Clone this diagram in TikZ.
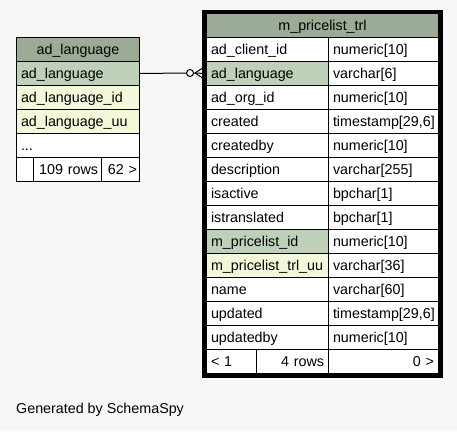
\documentclass[tikz,border=0pt]{standalone}
\usepackage{fontspec}
\setmainfont{Liberation Sans}
\definecolor{bgc}{HTML}{F7F7F7}
\definecolor{hdrc}{HTML}{9BAB96}
\definecolor{pkc}{HTML}{BED1B8}
\definecolor{idxc}{HTML}{F4F7DA}
\tikzset{
  cell/.style={draw=black, line width=1pt, anchor=north west, minimum height=24pt,
    inner xsep=4.5pt, inner ysep=0pt, text height=10pt, text depth=0pt,
    font=\fontsize{14.3}{16}\selectfont, fill=white},
  lcell/.style={cell, align=left},
  rcell/.style={cell, align=right},
  ccell/.style={cell, align=center},
}
\begin{document}
\begin{tikzpicture}[x=1pt,y=-1pt]
\path[use as bounding box, fill=bgc] (0,0) rectangle (457,431);
% left table
\node[ccell, fill=hdrc, text width=114pt] (lh) at (16,37) {ad\_language};
\node[lcell, fill=pkc, text width=114pt] (l1) at (16,61) {ad\_language};
\node[lcell, fill=idxc, text width=114pt] (l2) at (16,85) {ad\_language\_id};
\node[lcell, fill=idxc, text width=114pt] (l3) at (16,109) {ad\_language\_uu};
\node[lcell, text width=114pt] (l4) at (16,133) {...};
\node[lcell, text width=8pt] (lf1) at (16,157) {};
\node[rcell, text width=61pt, inner xsep=3.5pt] (lf2) at (33,157) {109 rows};
\node[rcell, text width=33pt, inner xsep=2.5pt] (lf3) at (101,157) {62 >};
% right table
\node[ccell, fill=hdrc, text width=223pt] (rh) at (206,13) {m\_pricelist\_trl};
\foreach \i/\n/\t/\f in {
  0/ad\_client\_id/numeric[10]/white,
  1/ad\_language/varchar[6]/pkc,
  2/ad\_org\_id/numeric[10]/white,
  3/created/{timestamp[29,6]}/white,
  4/createdby/numeric[10]/white,
  5/description/varchar[255]/white,
  6/isactive/bpchar[1]/white,
  7/istranslated/bpchar[1]/white,
  8/m\_pricelist\_id/numeric[10]/pkc,
  9/m\_pricelist\_trl\_uu/varchar[36]/idxc,
  10/name/varchar[60]/white,
  11/updated/{timestamp[29,6]}/white,
  12/updatedby/numeric[10]/white}{
  \node[lcell, fill=\f, text width=113pt] (ra\i) at (206,37+24*\i) {\n};
  \node[lcell, text width=101pt] (rb\i) at (328,37+24*\i) {\t};
}
\node[lcell, text width=41pt] (rf1) at (206,349) {< 1};
\node[rcell, text width=63pt] (rf2) at (256,349) {4 rows};
\node[rcell, text width=101pt] (rf3) at (328,349) {0 >};
\draw[line width=3.5pt] ([xshift=-2pt,yshift=1.5pt]rh.north west) rectangle ([xshift=2pt,yshift=-2pt]rf3.south east);
% connector
\node[circle, draw=black, line width=1pt, fill=bgc, minimum size=7pt, inner sep=0pt] (o) at (190,73) {};
\coordinate (apex) at (195,73);
\coordinate (ftop) at (203.5,67.5);
\coordinate (fbot) at (203.5,78.5);
\draw[line width=1pt] (l1.east) -- (o.west);
\draw[line width=1pt] (o.east) -- (ra1.west);
\draw[line width=1pt] (apex) -- (ftop);
\draw[line width=1pt] (apex) -- (fbot);
% footer text
\node[anchor=west, inner sep=0pt, font=\fontsize{14.3}{16}\selectfont] (gen) at (16,410) {Generated by SchemaSpy};
\end{tikzpicture}
\end{document}
